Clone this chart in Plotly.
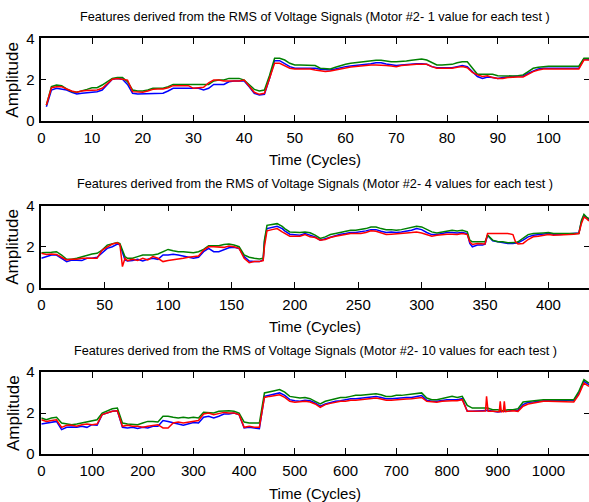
import plotly.graph_objects as go

X1 = list(range(1, 109))
G1 = [0.77,1.66,1.74,1.71,1.55,1.42,1.39,1.45,1.53,1.61,1.61,1.74,1.90,2.06,2.11,2.10,1.90,1.50,1.45,1.45,
      1.50,1.58,1.58,1.58,1.66,1.77,1.77,1.77,1.77,1.77,1.77,1.77,1.77,1.94,1.98,1.98,2.06,2.06,2.06,1.98,
      1.74,1.53,1.45,1.50,2.20,3.03,3.03,2.95,2.79,2.71,2.71,2.71,2.71,2.68,2.55,2.52,2.52,2.60,2.68,2.74,
      2.79,2.82,2.87,2.90,2.94,2.94,2.94,2.90,2.87,2.87,2.87,2.90,2.94,2.97,3.00,2.95,2.82,2.71,2.71,2.71,
      2.74,2.82,2.87,2.87,2.55,2.26,2.26,2.26,2.26,2.19,2.18,2.18,2.18,2.19,2.23,2.39,2.55,2.60,2.63,2.65,
      2.65,2.65,2.65,2.65,2.65,2.65,3.03,3.03]
B1 = [0.69,1.50,1.58,1.55,1.50,1.39,1.31,1.34,1.37,1.39,1.42,1.50,1.77,2.02,2.06,2.02,1.77,1.34,1.31,1.31,
      1.31,1.31,1.31,1.34,1.45,1.58,1.58,1.58,1.58,1.58,1.58,1.50,1.58,1.77,1.77,1.77,1.90,1.94,1.94,1.94,
      1.66,1.34,1.26,1.29,2.06,2.92,2.92,2.79,2.63,2.55,2.55,2.55,2.58,2.55,2.50,2.47,2.47,2.52,2.58,2.63,
      2.66,2.68,2.71,2.74,2.77,2.82,2.82,2.76,2.71,2.68,2.71,2.74,2.76,2.77,2.77,2.74,2.63,2.58,2.58,2.58,
      2.58,2.63,2.68,2.63,2.39,2.15,2.06,2.13,2.10,2.06,2.10,2.11,2.15,2.18,2.18,2.31,2.42,2.52,2.55,2.55,
      2.55,2.55,2.55,2.55,2.55,2.55,3.00,2.98]
R1 = [0.77,1.61,1.66,1.66,1.55,1.45,1.39,1.45,1.47,1.47,1.50,1.58,1.82,2.02,2.06,2.02,1.98,1.42,1.39,1.39,
      1.45,1.53,1.55,1.55,1.61,1.71,1.71,1.71,1.71,1.58,1.61,1.63,1.85,1.98,1.98,1.94,1.94,1.94,1.94,1.98,
      1.66,1.39,1.29,1.34,2.06,2.79,2.79,2.68,2.55,2.52,2.52,2.52,2.52,2.47,2.42,2.39,2.42,2.47,2.52,2.55,
      2.61,2.63,2.66,2.68,2.71,2.71,2.71,2.68,2.66,2.63,2.68,2.71,2.71,2.74,2.74,2.74,2.63,2.55,2.55,2.55,
      2.55,2.60,2.63,2.58,2.35,2.23,2.15,2.19,2.10,2.06,2.06,2.10,2.13,2.13,2.13,2.26,2.39,2.47,2.52,2.52,
      2.52,2.52,2.52,2.52,2.52,2.52,2.95,2.95]

X2 = [0,4,8,12,16,20,24,28,32,36,40,44,48,52,56,60,62,64,66,68,72,76,80,84,88,92,96,100,104,108,
      112,116,120,124,128,132,136,140,144,148,152,156,160,164,168,172,175,176,178,182,186,190,192,196,200,
      204,208,212,216,220,224,228,232,236,240,244,248,252,256,260,264,268,272,276,280,284,288,292,296,300,
      304,308,312,316,320,324,328,332,336,338,340,344,348,350,352,356,360,364,368,372,374,376,380,384,388,
      392,396,400,404,408,412,416,420,424,426,428,430,432]
G2 = [1.71,1.71,1.73,1.76,1.60,1.39,1.39,1.44,1.52,1.60,1.65,1.68,1.84,2.08,2.13,2.21,2.16,1.84,1.52,1.44,
      1.44,1.52,1.60,1.60,1.60,1.65,1.76,1.87,1.81,1.76,1.76,1.73,1.71,1.76,1.87,2.05,2.05,2.05,2.11,2.13,
      2.08,2.00,1.60,1.49,1.44,1.41,1.44,2.32,3.04,3.07,3.12,2.99,2.88,2.72,2.69,2.69,2.72,2.68,2.56,2.40,
      2.48,2.59,2.64,2.69,2.75,2.80,2.80,2.83,2.88,2.96,2.96,2.88,2.83,2.83,2.80,2.83,2.88,2.93,2.99,2.96,
      2.83,2.72,2.67,2.72,2.77,2.80,2.77,2.80,2.72,2.32,2.24,2.24,2.24,2.24,2.56,2.32,2.24,2.24,2.19,2.19,
      2.20,2.24,2.40,2.59,2.64,2.64,2.67,2.69,2.64,2.64,2.64,2.64,2.64,2.64,3.28,3.57,3.44,3.36]
B2 = [1.44,1.52,1.60,1.60,1.44,1.28,1.36,1.33,1.33,1.44,1.44,1.49,1.71,1.92,2.00,2.13,2.10,1.76,1.36,1.31,
      1.33,1.39,1.31,1.39,1.44,1.39,1.60,1.60,1.63,1.60,1.55,1.49,1.44,1.49,1.76,1.92,1.76,1.76,1.84,1.95,
      1.97,1.92,1.52,1.31,1.28,1.28,1.36,2.24,2.88,2.93,2.99,2.88,2.77,2.61,2.59,2.56,2.64,2.56,2.48,2.32,
      2.40,2.48,2.56,2.61,2.64,2.69,2.69,2.72,2.77,2.83,2.83,2.75,2.69,2.72,2.69,2.72,2.75,2.80,2.88,2.83,
      2.69,2.59,2.59,2.64,2.69,2.69,2.67,2.69,2.64,2.16,2.00,2.08,2.08,2.12,2.56,2.29,2.24,2.21,2.16,2.16,
      2.18,2.19,2.32,2.48,2.56,2.59,2.61,2.64,2.61,2.59,2.61,2.64,2.64,2.67,3.20,3.52,3.41,3.31]
R2 = [1.68,1.63,1.65,1.63,1.49,1.36,1.39,1.39,1.44,1.44,1.44,1.44,1.84,2.00,2.13,2.19,2.10,1.04,1.44,1.33,
      1.39,1.33,1.44,1.36,1.52,1.44,1.28,1.33,1.36,1.39,1.44,1.49,1.52,1.55,1.84,2.00,2.00,2.00,1.97,2.03,
      2.00,1.92,1.44,1.23,1.28,1.28,1.33,2.00,2.77,2.83,2.88,2.72,2.64,2.51,2.51,2.51,2.59,2.48,2.45,2.32,
      2.35,2.45,2.51,2.56,2.59,2.64,2.64,2.64,2.69,2.77,2.75,2.67,2.59,2.61,2.64,2.64,2.67,2.69,2.72,2.67,
      2.59,2.51,2.56,2.59,2.61,2.61,2.59,2.64,2.59,2.24,2.11,2.16,2.16,2.13,2.64,2.64,2.61,2.61,2.64,2.59,
      2.24,2.13,2.16,2.35,2.48,2.51,2.56,2.59,2.56,2.56,2.59,2.59,2.61,2.64,3.12,3.44,3.36,3.25]

X3 = list(range(0, 1081, 10))
G3 = [1.76,1.67,1.76,1.79,1.51,1.46,1.43,1.46,1.51,1.59,1.62,1.67,2.00,2.11,2.21,2.24,1.51,1.46,1.46,1.43,
      1.51,1.59,1.59,1.56,1.84,1.84,1.79,1.76,1.79,1.76,1.79,1.76,2.03,2.00,2.00,2.08,2.11,2.11,2.08,2.00,
      1.56,1.51,1.51,1.51,2.98,3.02,3.09,3.14,3.02,2.81,2.76,2.73,2.76,2.70,2.57,2.44,2.57,2.65,2.70,2.76,
      2.76,2.81,2.86,2.86,2.89,2.94,2.94,2.89,2.81,2.81,2.86,2.86,2.89,2.93,2.98,2.98,2.73,2.65,2.65,2.70,
      2.76,2.81,2.76,2.81,2.37,2.24,2.24,2.24,2.24,2.16,2.16,2.11,2.16,2.16,2.21,2.54,2.57,2.57,2.60,2.65,
      2.65,2.65,2.65,2.65,2.65,2.65,3.06,3.63,3.46]
B3 = [1.46,1.51,1.56,1.59,1.19,1.30,1.32,1.30,1.35,1.30,1.43,1.40,1.92,2.00,2.08,2.11,1.30,1.27,1.30,1.24,
      1.30,1.27,1.35,1.35,1.63,1.59,1.51,1.46,1.40,1.46,1.54,1.51,1.79,1.84,1.76,1.84,1.95,1.95,2.00,1.92,
      1.27,1.30,1.27,1.24,2.81,2.86,2.93,2.98,2.86,2.65,2.60,2.57,2.62,2.60,2.49,2.33,2.44,2.52,2.57,2.60,
      2.65,2.70,2.70,2.73,2.76,2.81,2.81,2.76,2.70,2.70,2.73,2.73,2.76,2.76,2.81,2.85,2.62,2.57,2.57,2.62,
      2.65,2.65,2.65,2.70,2.08,2.08,2.11,2.11,2.13,2.08,2.05,2.08,2.08,2.13,2.13,2.41,2.52,2.54,2.57,2.60,
      2.62,2.60,2.62,2.62,2.62,2.60,2.98,3.54,3.38]
R3 = [1.67,1.59,1.63,1.67,1.30,1.40,1.40,1.35,1.43,1.46,1.43,1.46,1.92,2.00,2.08,2.11,1.35,1.40,1.35,1.35,
      1.30,1.35,1.40,1.43,1.27,1.27,1.51,1.56,1.51,1.56,1.59,1.63,1.95,2.00,1.92,1.97,2.03,2.00,2.00,1.92,
      1.30,1.35,1.30,1.30,2.76,2.81,2.86,2.89,2.76,2.57,2.52,2.54,2.57,2.54,2.44,2.28,2.41,2.47,2.52,2.57,
      2.57,2.62,2.62,2.65,2.70,2.73,2.73,2.68,2.62,2.62,2.65,2.65,2.68,2.70,2.73,2.76,2.57,2.54,2.52,2.57,
      2.60,2.60,2.60,2.65,2.08,2.08,2.11,2.08,2.08,2.08,2.05,2.08,2.08,2.11,2.08,2.33,2.44,2.49,2.52,2.57,
      2.57,2.57,2.57,2.57,2.57,2.54,2.89,3.46,3.30]
R3_SPIKE_X = [876, 878, 881, 903, 905, 907, 911, 913, 915]
R3_SPIKE_Y = [2.10, 2.81, 2.08, 2.06, 2.57, 2.06, 2.07, 2.57, 2.07]

TITLES = [
    "Features derived from the RMS of Voltage Signals (Motor #2- 1 value for each test )",
    "Features derived from the RMS of Voltage Signals (Motor #2- 4 values for each test )",
    "Features derived from the RMS of Voltage Signals (Motor #2- 10 values for each test )",
]
XMAX = [108, 432, 1080]
XDTICK = [10, 50, 100]
Y_TICKS = [0, 2, 4]

BLUE, GREEN, RED = "#0000FF", "#008000", "#FF0000"

r3 = sorted(list(zip(X3, R3)) + list(zip(R3_SPIKE_X, R3_SPIKE_Y)))
X3R = [p[0] for p in r3]
R3M = [p[1] for p in r3]

W, H = 589, 502
panels = [
    (X1, B1, X1, G1, X1, R1),
    (X2, B2, X2, G2, X2, R2),
    (X3, B3, X3, G3, X3R, R3M),
]
BOX = [(38.3, 121.0), (205.5, 288.0), (372.0, 454.0)]
LEFT = 41.3
TITLE_Y = [17, 184, 351]
XLAB_Y = [160, 326, 493]

fig = go.Figure()
TICKFONT = dict(family="Arial, Liberation Sans, sans-serif", size=15, color="black")
for i, (xb, yb, xg, yg, xr, yr) in enumerate(panels):
    n = "" if i == 0 else str(i + 1)
    for xs, ys, c in ((xb, yb, BLUE), (xg, yg, GREEN), (xr, yr, RED)):
        fig.add_trace(go.Scatter(x=xs, y=ys, mode="lines", line=dict(color=c, width=1.5),
                                 xaxis="x" + n, yaxis="y" + n, showlegend=False, hoverinfo="skip"))
    top, bot = BOX[i]
    fig.layout["xaxis" + n] = dict(
        domain=[LEFT / W, 1.0], range=[0, XMAX[i]], anchor="y" + n,
        tickmode="linear", tick0=0, dtick=XDTICK[i],
        ticks="inside", ticklen=6, tickwidth=1, tickcolor="black",
        showline=True, linecolor="black", linewidth=1.5, mirror="ticks",
        showgrid=False, zeroline=False, tickfont=TICKFONT, ticklabelstandoff=2,
        automargin=False,
    )
    fig.layout["yaxis" + n] = dict(
        domain=[1 - bot / H, 1 - top / H], range=[0, 4], anchor="x" + n,
        tickvals=Y_TICKS, ticks="inside", ticklen=5, tickwidth=1, tickcolor="black",
        showline=True, linecolor="black", linewidth=1.5, mirror="ticks",
        showgrid=False, zeroline=False, tickfont=TICKFONT, ticklabelstandoff=2,
        automargin=False,
    )
    cx = (LEFT + W) / 2 / W
    fig.add_annotation(text=TITLES[i], xref="paper", yref="paper", x=cx, y=1 - TITLE_Y[i] / H,
                       showarrow=False, xanchor="center", yanchor="middle",
                       font=dict(family="Arial, Liberation Sans, sans-serif", size=12.7, color="black"))
    fig.add_annotation(text="Time (Cycles)", xref="paper", yref="paper", x=cx, y=1 - XLAB_Y[i] / H,
                       showarrow=False, xanchor="center", yanchor="middle",
                       font=dict(family="Arial, Liberation Sans, sans-serif", size=15, color="black"))
    fig.add_annotation(text="Amplitude", xref="paper", yref="paper", x=13 / W,
                       y=1 - (top + bot) / 2 / H, textangle=-90,
                       showarrow=False, xanchor="center", yanchor="middle",
                       font=dict(family="Arial, Liberation Sans, sans-serif", size=17, color="black"))

fig.update_layout(width=W, height=H, margin=dict(l=0, r=0, t=0, b=0, autoexpand=False),
                  paper_bgcolor="white", plot_bgcolor="white")
fig.write_html("out.html")
